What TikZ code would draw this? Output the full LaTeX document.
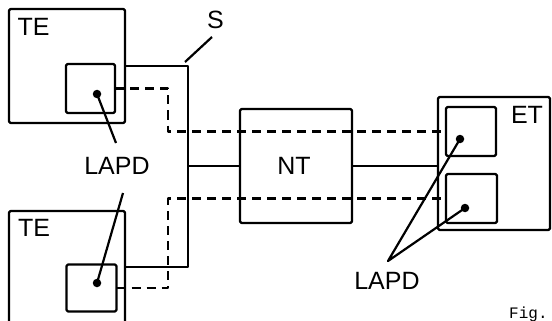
\documentclass[tikz,border=0pt]{standalone}
\usepackage{fontspec}
\setmainfont{Liberation Sans}
\newfontfamily\figmono{Liberation Mono}
\begin{document}
\begin{tikzpicture}[x=1pt,y=-1pt,
  ln/.style={line width=2.2pt, line join=round},
  boxn/.style={ln, draw, rounded corners=1.5pt, inner sep=0pt, outer sep=0pt},
  dashline/.style={ln, dash pattern=on 9pt off 6pt},
  dotn/.style={circle, fill=black, inner sep=0pt, minimum size=8.5pt},
  lbl/.style={inner sep=0pt, font=\fontsize{25}{30}\selectfont}]
\useasboundingbox (0,0) rectangle (552,321);
\clip (0,0) rectangle (552,321);
% boxes
\node[boxn, minimum width=116pt, minimum height=114pt] (teA) at (67,66) {};
\node[boxn, minimum width=49pt, minimum height=49pt] (teAi) at (90.5,88.5) {};
\node[boxn, minimum width=116pt, minimum height=130pt] (teB) at (67,276) {};
\node[boxn, minimum width=50pt, minimum height=47pt] (teBi) at (91.5,288) {};
\node[boxn, minimum width=112pt, minimum height=114pt] (NT) at (296,166) {};
\node[boxn, minimum width=112pt, minimum height=133pt] (ET) at (494,163.5) {};
\node[boxn, minimum width=50pt, minimum height=49pt] (etA) at (471,131.5) {};
\node[boxn, minimum width=51pt, minimum height=49pt] (etB) at (471.5,198.5) {};
% labels
\node[lbl] (lteA) at (33.5,27) {TE};
\node[lbl] (lteB) at (34,227.5) {TE};
\node[lbl] (lnt) at (294,166) {NT};
\node[lbl] (let) at (527,115) {ET};
\node[lbl] (ls) at (215.5,20) {S};
\node[lbl] (lap1) at (117,166) {LAPD};
\node[lbl] (lap2) at (387,281) {LAPD};
\node[inner sep=0pt, anchor=base west, font=\figmono\fontsize{16}{18}\selectfont] (fig) at (509,318) {Fig.};
% bus S
\coordinate (s1) at (188,66);
\coordinate (s2) at (188,267);
\draw[ln] (teA.east |- s1) -- (s1) -- (s2) -- (teB.east |- s2);
\draw[ln] (s1 |- NT.west) -- (NT.west);
\draw[ln] (NT.east) -- (ET.west |- NT.east);
\coordinate (sl) at (185,62);
\coordinate (sh) at (212,37);
\draw[ln] (sl) -- (sh);
% dashed links
\coordinate (d1) at (168,88.5);
\coordinate (d2) at (168,288);
\draw[dashline] (teAi.east |- d1) -- (d1) |- (etA.west);
\draw[dashline] (teBi.east |- d2) -- (d2) |- (etB.west);
% LAPD points
\node[dotn] (p1) at (97,94) {};
\node[dotn] (p2) at (97,283) {};
\node[dotn] (p3) at (460,139) {};
\node[dotn] (p4) at (465,208) {};
\coordinate (a1) at (116,143);
\coordinate (a2) at (123,193);
\coordinate (a3) at (388,261);
\draw[ln] (p1.center) -- (a1);
\draw[ln] (a2) -- (p2.center);
\draw[ln] (p3.center) -- (a3) -- (p4.center);
\end{tikzpicture}
\end{document}
